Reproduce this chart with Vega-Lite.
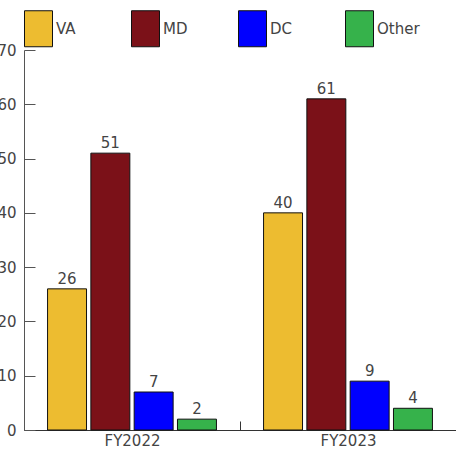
{
  "$schema": "https://vega.github.io/schema/vega-lite/v6.json",
  "width": 432,
  "height": 380,
  "autosize": {"type": "none"},
  "padding": {"left": 24, "top": 50, "right": 0, "bottom": 21},
  "background": "white",
  "config": {
    "view": {"stroke": null},
    "font": "DejaVu Sans"
  },
  "data": {
    "values": [
      {"year": "FY2022", "region": "VA", "value": 26},
      {"year": "FY2022", "region": "MD", "value": 51},
      {"year": "FY2022", "region": "DC", "value": 7},
      {"year": "FY2022", "region": "Other", "value": 2},
      {"year": "FY2023", "region": "VA", "value": 40},
      {"year": "FY2023", "region": "MD", "value": 61},
      {"year": "FY2023", "region": "DC", "value": 9},
      {"year": "FY2023", "region": "Other", "value": 4}
    ]
  },
  "encoding": {
    "x": {
      "field": "year", "type": "nominal",
      "scale": {"paddingInner": 0, "paddingOuter": 0},
      "axis": {
        "title": null, "labelAngle": 0, "labelFontSize": 15, "labelColor": "#444",
        "tickBand": "extent", "tickSize": -9, "tickColor": "#333", "domainColor": "#333",
        "labelPadding": 12
      }
    },
    "xOffset": {
      "field": "region", "type": "nominal", "sort": ["VA", "MD", "DC", "Other"],
      "scale": {"paddingInner": 0.1, "paddingOuter": 0.544}
    },
    "y": {
      "field": "value", "type": "quantitative",
      "scale": {"domain": [0, 70], "nice": false},
      "axis": {
        "title": null, "values": [0, 10, 20, 30, 40, 50, 60, 70], "grid": false,
        "labelFontSize": 15, "labelColor": "#444", "tickSize": -11,
        "tickColor": "#555", "domainColor": "#555", "labelPadding": 19
      }
    }
  },
  "layer": [
    {
      "mark": {"type": "bar", "stroke": "#111", "strokeWidth": 1},
      "encoding": {
        "color": {
          "field": "region", "type": "nominal", "sort": ["VA", "MD", "DC", "Other"],
          "scale": {"domain": ["VA", "MD", "DC", "Other"], "range": ["#EDBC30", "#7B1118", "#0000FF", "#36B24B"]},
          "legend": {
            "title": null, "orient": "none", "legendX": 0, "legendY": -36,
            "direction": "horizontal", "columns": 4, "gridAlign": "all", "columnPadding": 30,
            "symbolType": "M-1,-1.2857H1V1.2857H-1Z", "symbolSize": 784,
            "symbolStrokeColor": "#111", "symbolStrokeWidth": 1,
            "labelFontSize": 15, "labelColor": "#444", "labelOffset": 3
          }
        }
      }
    },
    {
      "mark": {"type": "text", "baseline": "bottom", "dy": -2, "fontSize": 15, "color": "#444"},
      "encoding": {"text": {"field": "value", "type": "quantitative"}}
    }
  ]
}
